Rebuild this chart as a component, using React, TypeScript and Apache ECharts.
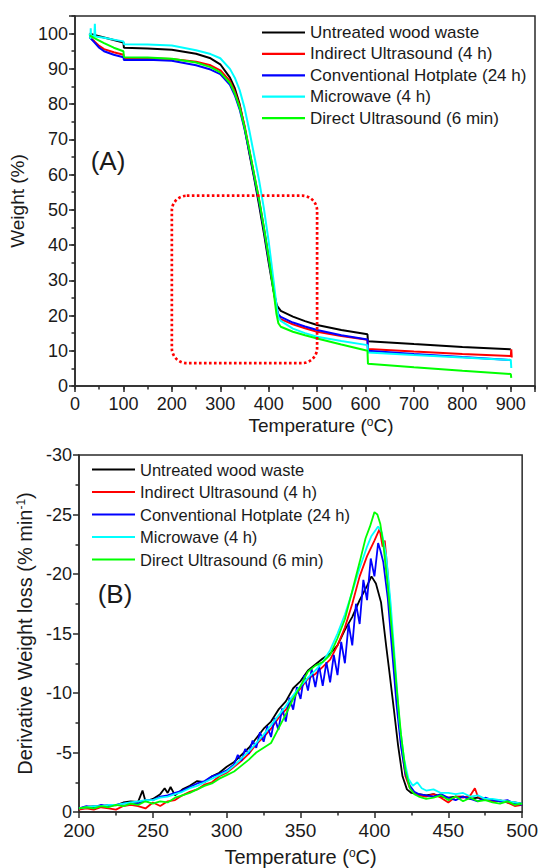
import React, { useEffect, useRef } from 'react';
import * as echarts from 'echarts';

const FONT = 'Arial, "Liberation Sans", Helvetica, sans-serif';

const seriesNames = [
  'Untreated wood waste',
  'Indirect Ultrasound (4 h)',
  'Conventional Hotplate (24 h)',
  'Microwave (4 h)',
  'Direct Ultrasound (6 min)',
];
const seriesColors = ['#000000', '#ff0000', '#0000ff', '#00ffff', '#00ff00'];

// Panel A tick labels
const tgaTempTicks = [0, 100, 200, 300, 400, 500, 600, 700, 800, 900];
const tgaWeightTicks = [0, 10, 20, 30, 40, 50, 60, 70, 80, 90, 100];

// Panel A: TGA weight (%) vs temperature (°C)
const tgaUntreated: [number, number][] = [
  [30, 100], [40, 99.6], [60, 98.9], [80, 98.2], [100, 97.5], [101, 96.0], [150, 95.8], [200, 95.4],
  [250, 94.3], [280, 93.0], [300, 91.3], [320, 87.5], [330, 84.5], [340, 80], [350, 73.5], [360, 66],
  [370, 59], [380, 51.5], [390, 43.5], [400, 35], [410, 27], [417, 22.8], [425, 21.3], [450, 19.7],
  [475, 18.4], [500, 17.3], [550, 15.9], [604, 14.7], [605, 12.7], [700, 11.9], [800, 11.1], [900, 10.4],
];
const tgaIndirectUS: [number, number][] = [
  [30, 99], [40, 97.8], [50, 96.5], [60, 95.6], [80, 94.7], [100, 94.0], [101, 93.1], [150, 93.0],
  [200, 92.8], [250, 92.0], [280, 91.0], [300, 89.6], [320, 86.5], [330, 83.5], [340, 79.5], [350, 74],
  [360, 67], [370, 60], [380, 53], [390, 45], [400, 36.5], [410, 27.5], [416, 22], [420, 19.8], [425, 19.0],
  [450, 17.5], [475, 16.4], [500, 15.4], [550, 14.2], [604, 13.1], [605, 10.5], [700, 9.8], [800, 9.1],
  [900, 8.5], [901, 10.4], [902, 8.1],
];
const tgaHotplate: [number, number][] = [
  [30, 99], [40, 97.5], [50, 96], [60, 95], [80, 94.0], [100, 93.3], [101, 92.5], [150, 92.6],
  [200, 92.3], [250, 91.0], [280, 89.8], [300, 88.5], [320, 85.5], [330, 82.5], [340, 78.5], [350, 73],
  [360, 66.5], [370, 59.5], [380, 52.5], [390, 44.5], [400, 36], [410, 27.5], [416, 22.5], [420, 20.3],
  [425, 19.6], [450, 18.0], [475, 16.9], [500, 15.9], [550, 14.4], [604, 13.2], [605, 10.0], [700, 9.1],
  [800, 8.2], [900, 7.4],
];
const tgaMicrowave: [number, number][] = [
  [30, 100], [32, 98.5], [32.5, 101.5], [33, 99.5], [40, 99.3], [41, 102.8], [42, 99.2], [60, 98.8],
  [80, 98.3], [100, 97.8], [101, 97.0], [150, 96.9], [200, 96.6], [250, 95.3], [280, 94.2], [300, 93],
  [320, 90], [330, 87.5], [340, 84], [350, 79], [360, 72.5], [370, 65.5], [380, 58.5], [390, 50.5],
  [400, 41], [410, 30], [416, 23], [420, 19.5], [425, 18.5], [450, 16.3], [475, 15.0], [500, 14.0],
  [550, 12.8], [604, 11.6], [605, 9.5], [700, 8.8], [800, 8.1], [900, 7.4], [901, 5.1],
];
const tgaDirectUS: [number, number][] = [
  [30, 99.5], [40, 98.7], [60, 97.3], [80, 96], [100, 95], [101, 93.3], [150, 93.2], [200, 92.9],
  [250, 91.8], [280, 90.5], [300, 89], [320, 86], [330, 83], [340, 79], [350, 73.5], [360, 67],
  [370, 60], [380, 53], [390, 45], [400, 36.5], [410, 27], [416, 20.5], [420, 17.8], [425, 16.8],
  [450, 15.4], [475, 14.4], [500, 13.5], [550, 11.8], [604, 10.0], [605, 6.3], [700, 5.3], [800, 4.3],
  [900, 3.4], [901, 2.3],
];

// Dotted highlight box on panel A (data coordinates)
const zoomBoxTemp = [200, 500];
const zoomBoxWeight = [6.5, 54];

// Panel B: derivative weight loss (% min^-1) vs temperature (°C)
const dtgUntreated: [number, number][] = [
  [200, -0.3], [205, -0.4], [210, -0.5], [215, -0.45], [220, -0.6], [225, -0.55], [230, -0.8], [235, -0.9],
  [240, -0.85], [243, -1.8], [245, -0.9], [250, -1.1], [255, -1.5], [258, -2.0], [260, -1.6], [262, -2.1],
  [265, -1.4], [270, -1.9], [275, -2.2], [280, -2.6], [285, -2.5], [290, -3.0], [295, -3.3], [300, -3.8],
  [305, -4.2], [310, -4.8], [315, -5.4], [320, -6.2], [325, -7.0], [330, -7.6], [335, -8.6], [340, -9.3],
  [345, -10.4], [350, -11.0], [355, -11.9], [360, -12.4], [365, -12.9], [370, -13.3], [375, -14.0],
  [380, -15.3], [385, -16.4], [390, -17.8], [395, -19.0], [398, -19.8], [401, -19.2], [404.5, -17.6],
  [408, -13.9], [410, -11.9], [413, -8.8], [416, -5.6], [419, -3.0], [422, -1.9], [425, -1.6], [430, -1.5],
  [435, -1.4], [440, -1.5], [445, -1.3], [450, -1.2], [455, -1.3], [460, -1.3], [465, -1.1], [470, -1.2],
  [475, -1.0], [480, -1.0], [485, -0.9], [490, -0.8], [495, -0.8], [500, -0.7],
];
const dtgIndirectUS: [number, number][] = [
  [200, -0.2], [205, -0.3], [210, -0.2], [215, -0.4], [220, -0.3], [225, -0.2], [230, -0.5], [235, -0.6],
  [240, -0.5], [245, -0.3], [250, -0.8], [255, -0.5], [260, -0.9], [265, -1.0], [270, -1.4], [275, -1.7],
  [280, -1.9], [285, -2.3], [290, -2.5], [295, -3.0], [300, -3.3], [305, -3.8], [310, -4.3], [315, -4.9],
  [320, -5.7], [325, -6.3], [330, -7.0], [335, -7.9], [340, -8.6], [345, -9.6], [350, -10.4], [355, -11.2],
  [360, -11.6], [365, -12.2], [370, -12.8], [375, -14.0], [380, -15.5], [385, -17.5], [390, -19.8],
  [395, -21.5], [400, -22.8], [403.5, -23.8], [405.5, -22.3], [407, -22.8], [409, -20.0], [412, -15.0],
  [415, -10.0], [418, -5.8], [421, -3.0], [424, -2.0], [427, -1.6], [430, -1.4], [435, -1.3], [440, -1.5],
  [445, -1.2], [450, -0.8], [455, -1.3], [460, -1.2], [465, -1.4], [468, -2.0], [470, -1.3], [475, -1.1],
  [480, -0.9], [485, -1.0], [490, -0.8], [495, -0.5], [500, -0.6],
];
const dtgHotplate: [number, number][] = [
  [200, -0.3], [205, -0.5], [210, -0.4], [215, -0.6], [220, -0.5], [225, -0.6], [230, -0.7], [235, -0.8],
  [240, -0.7], [245, -1.0], [250, -1.0], [255, -1.3], [260, -1.4], [265, -1.6], [270, -1.8], [275, -2.1],
  [280, -2.4], [285, -2.6], [290, -3.0], [295, -3.2], [300, -3.5], [305, -4.0], [307.5, -4.8], [310, -4.3],
  [312.5, -5.3], [315, -4.9], [317.5, -6.0], [320, -5.4], [322.5, -6.7], [325, -5.9], [327.5, -7.2],
  [330, -6.3], [332.5, -7.9], [335, -6.9], [337.5, -8.7], [340, -7.6], [342.5, -9.6], [345, -8.6],
  [347.5, -10.5], [350, -9.5], [352.5, -11.5], [355, -10.2], [357.5, -12.0], [360, -10.5], [362.5, -12.3],
  [365, -10.6], [367.5, -12.6], [370, -10.9], [372.5, -13.2], [375, -11.5], [377.5, -14.3], [380, -12.5],
  [382.5, -15.8], [385, -14.0], [387.5, -17.5], [390, -15.8], [392.5, -19.5], [395, -17.8], [397.5, -21.3],
  [400, -19.8], [402.5, -22.6], [404, -22.0], [406, -21.0], [409, -18.0], [412, -13.5], [415, -9.0],
  [418, -5.5], [421, -3.2], [424, -2.2], [427, -1.7], [430, -1.5], [435, -1.4], [440, -1.3], [445, -1.5],
  [450, -1.2], [455, -1.0], [460, -1.3], [465, -1.1], [470, -0.9], [475, -1.2], [480, -1.0], [485, -0.9],
  [490, -1.0], [495, -0.7], [500, -0.6],
];
const dtgMicrowave: [number, number][] = [
  [200, -0.3], [205, -0.4], [210, -0.5], [215, -0.5], [220, -0.6], [225, -0.6], [230, -0.7], [235, -0.8],
  [240, -0.9], [245, -1.0], [250, -1.0], [255, -1.2], [260, -1.3], [265, -1.5], [270, -1.7], [275, -2.0],
  [280, -2.2], [285, -2.5], [290, -2.8], [295, -3.1], [300, -3.4], [305, -3.9], [310, -4.5], [315, -5.1],
  [320, -5.8], [325, -6.5], [330, -7.3], [335, -8.1], [340, -8.9], [345, -9.8], [350, -10.6], [355, -11.3],
  [360, -11.9], [365, -12.6], [370, -13.6], [375, -15.0], [380, -16.6], [385, -18.5], [390, -20.5],
  [395, -22.3], [398, -23.2], [402.5, -24.0], [405, -23.5], [408, -21.5], [411, -17.5], [414, -12.5],
  [417, -7.5], [420, -4.5], [423, -2.8], [426, -2.2], [429, -2.5], [432, -2.0], [435, -1.8], [440, -1.9],
  [445, -1.6], [450, -1.6], [455, -1.5], [460, -1.6], [465, -1.3], [470, -1.4], [475, -1.1], [480, -1.1],
  [485, -1.0], [490, -0.9], [495, -0.8], [500, -0.7],
];
const dtgDirectUS: [number, number][] = [
  [200, -0.3], [205, -0.4], [210, -0.3], [215, -0.5], [220, -0.4], [225, -0.6], [230, -0.5], [235, -0.7],
  [240, -0.6], [245, -0.9], [250, -0.7], [255, -0.9], [260, -0.8], [265, -1.2], [270, -1.4], [275, -1.6],
  [280, -1.9], [285, -2.2], [290, -2.4], [295, -2.8], [300, -3.1], [305, -3.4], [310, -3.9], [315, -4.4],
  [320, -5.0], [325, -5.4], [330, -5.8], [335, -7.0], [340, -8.2], [345, -9.5], [350, -10.6], [355, -11.8],
  [360, -12.3], [365, -12.6], [370, -13.2], [375, -14.6], [380, -16.2], [385, -18.6], [390, -21.0],
  [394, -23.0], [397, -24.0], [400, -25.2], [402, -25.0], [404, -24.2], [406, -22.5], [409, -19.0],
  [412, -15.0], [415, -10.5], [418, -6.5], [421, -3.5], [424, -2.0], [427, -1.5], [430, -1.3], [435, -1.1],
  [440, -1.2], [445, -1.4], [450, -1.0], [455, -1.3], [460, -0.9], [465, -1.2], [470, -0.9], [475, -1.0],
  [480, -0.8], [485, -0.7], [490, -0.9], [495, -0.6], [500, -0.7],
];

const tgaSets = [tgaUntreated, tgaIndirectUS, tgaHotplate, tgaMicrowave, tgaDirectUS];
const dtgSets = [dtgUntreated, dtgIndirectUS, dtgHotplate, dtgMicrowave, dtgDirectUS];

const AXIS_COLOR = '#2a2a2a';
const TEXT_COLOR = '#1a1a1a';

function mainAxisCommon(fontSize: number) {
  return {
    axisLine: { show: true, onZero: false, lineStyle: { color: AXIS_COLOR, width: 1.5 } },
    axisTick: { show: true, inside: false, length: 6, lineStyle: { color: AXIS_COLOR, width: 1.5 } },
    axisLabel: { color: TEXT_COLOR, fontSize, fontFamily: FONT, margin: 8 },
    splitLine: { show: false },
  };
}

export default function App() {
  const ref = useRef<HTMLDivElement>(null);

  useEffect(() => {
    document.body.style.margin = '0';
    if (!ref.current) return;
    const chart = echarts.init(ref.current, undefined, { renderer: 'svg' });

    const supRich = {
      sup: { fontSize: 12, fontFamily: FONT, color: TEXT_COLOR, verticalAlign: 'top', lineHeight: 12 },
    };

    const legendItems = seriesNames.map((n) => ({ name: n, icon: 'rect' }));

    const option: any = {
      animation: false,
      backgroundColor: '#ffffff',
      grid: [
        { left: 75, top: 16, width: 460, height: 370, show: true, borderColor: AXIS_COLOR, borderWidth: 1.5, backgroundColor: 'transparent' },
        { left: 79, top: 455, width: 446, height: 358, show: true, borderColor: AXIS_COLOR, borderWidth: 1.5, backgroundColor: 'transparent' },
      ],
      xAxis: [
        {
          type: 'value', gridIndex: 0, min: 0, max: 950, interval: 100,
          ...mainAxisCommon(18),
          axisLabel: {
            color: TEXT_COLOR, fontSize: 18, fontFamily: FONT, margin: 9,
            formatter: (v: number) => (tgaTempTicks.includes(v) ? String(v) : ''),
          },
          name: 'Temperature ({sup|o}C)',
          nameLocation: 'middle',
          nameGap: 30,
          nameTextStyle: { fontSize: 19, fontFamily: FONT, color: TEXT_COLOR, padding: [0, 0, 0, 32], rich: supRich },
        },
        {
          type: 'value', gridIndex: 0, min: 0, max: 950, interval: 50, position: 'bottom',
          axisLine: { show: false }, axisLabel: { show: false }, splitLine: { show: false },
          axisTick: { show: true, inside: false, length: 3.5, lineStyle: { color: AXIS_COLOR, width: 1.5 } },
        },
        {
          type: 'value', gridIndex: 1, min: 200, max: 500, interval: 50,
          ...mainAxisCommon(19),
          axisLabel: { color: TEXT_COLOR, fontSize: 19, fontFamily: FONT, margin: 9 },
          minorTick: { show: true, splitNumber: 2, length: 3.5, lineStyle: { color: AXIS_COLOR, width: 1.5 } },
          name: 'Temperature ({sup|o}C)',
          nameLocation: 'middle',
          nameGap: 35,
          nameTextStyle: { fontSize: 20, fontFamily: FONT, color: TEXT_COLOR, rich: supRich },
        },
      ],
      yAxis: [
        {
          type: 'value', gridIndex: 0, min: 0, max: 105, interval: 10, position: 'left',
          ...mainAxisCommon(18),
          axisLabel: {
            color: TEXT_COLOR, fontSize: 18, fontFamily: FONT, margin: 7,
            formatter: (v: number) => (tgaWeightTicks.includes(v) ? String(v) : ''),
          },
          name: 'Weight (%)',
          nameLocation: 'middle',
          nameGap: 38,
          nameTextStyle: { fontSize: 19, fontFamily: FONT, color: TEXT_COLOR },
        },
        {
          type: 'value', gridIndex: 0, min: 0, max: 105, interval: 5, position: 'left',
          axisLine: { show: false }, axisLabel: { show: false }, splitLine: { show: false },
          axisTick: { show: true, inside: false, length: 3.5, lineStyle: { color: AXIS_COLOR, width: 1.5 } },
        },
        {
          type: 'value', gridIndex: 1, min: -30, max: 0, interval: 5, inverse: true, position: 'left',
          ...mainAxisCommon(18),
          axisLabel: { color: TEXT_COLOR, fontSize: 18, fontFamily: FONT, margin: 7 },
          minorTick: { show: true, splitNumber: 2, length: 3.5, lineStyle: { color: AXIS_COLOR, width: 1.5 } },
          name: 'Derivative Weight loss (% min{sup|-1})',
          nameLocation: 'middle',
          nameGap: 38,
          nameTextStyle: { fontSize: 20, fontFamily: FONT, color: TEXT_COLOR, rich: supRich },
        },
      ],
      legend: [
        {
          orient: 'vertical', left: 262, top: 24, padding: 0,
          itemWidth: 43, itemHeight: 2.2, itemGap: 4.4,
          textStyle: { fontSize: 17, fontFamily: FONT, color: TEXT_COLOR },
          data: legendItems,
          selectedMode: false,
        },
        {
          orient: 'vertical', left: 92, top: 461, padding: 0,
          itemWidth: 43, itemHeight: 2.2, itemGap: 5.5,
          textStyle: { fontSize: 16.5, fontFamily: FONT, color: TEXT_COLOR },
          data: legendItems,
          selectedMode: false,
        },
      ],
      series: [
        ...tgaSets.map((d, i) => ({
          name: seriesNames[i], type: 'line', xAxisIndex: 0, yAxisIndex: 0, data: d,
          symbol: 'none', showSymbol: false, silent: true,
          lineStyle: { color: seriesColors[i], width: 2 }, itemStyle: { color: seriesColors[i] },
        })),
        ...dtgSets.map((d, i) => ({
          name: seriesNames[i], type: 'line', xAxisIndex: 2, yAxisIndex: 2, data: d,
          symbol: 'none', showSymbol: false, silent: true,
          lineStyle: { color: seriesColors[i], width: 1.8 }, itemStyle: { color: seriesColors[i] },
        })),
      ],
    };

    chart.setOption(option);

    const p1 = chart.convertToPixel({ xAxisIndex: 0, yAxisIndex: 0 } as any, [zoomBoxTemp[0], zoomBoxWeight[1]]) as number[];
    const p2 = chart.convertToPixel({ xAxisIndex: 0, yAxisIndex: 0 } as any, [zoomBoxTemp[1], zoomBoxWeight[0]]) as number[];

    chart.setOption({
      graphic: [
        {
          type: 'rect', z: 50, silent: true,
          shape: { x: p1[0], y: p1[1], width: p2[0] - p1[0], height: p2[1] - p1[1], r: 15 },
          style: { fill: 'none', stroke: '#ff0000', lineWidth: 2.7, lineDash: [2.6, 2.4] },
        },
        {
          type: 'text', x: 108, y: 161, z: 50, silent: true,
          style: { text: '(A)', fontSize: 26, fontFamily: FONT, fill: TEXT_COLOR, align: 'center', verticalAlign: 'middle' },
        },
        {
          type: 'text', x: 115, y: 594, z: 50, silent: true,
          style: { text: '(B)', fontSize: 26, fontFamily: FONT, fill: TEXT_COLOR, align: 'center', verticalAlign: 'middle' },
        },
      ],
    });

    return () => chart.dispose();
  }, []);

  return <div ref={ref} style={{ width: 541, height: 868 }} />;
}
